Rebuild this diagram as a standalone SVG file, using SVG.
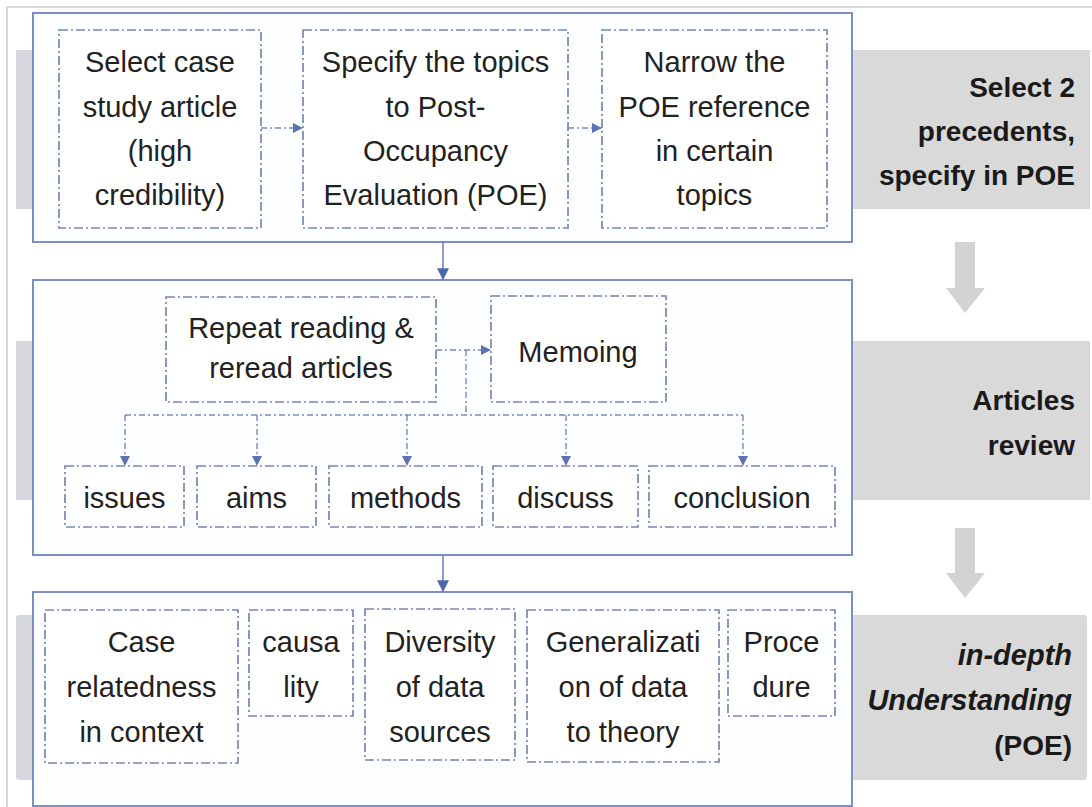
<svg xmlns="http://www.w3.org/2000/svg" width="1092" height="807" viewBox="0 0 1092 807">
<style>
.frame{fill:#ffffff;stroke:#d9d9d9;stroke-width:2}
.band{fill:url(#bandGrad)}
.cont{fill:#fdfeff;stroke:#7c8fc2;stroke-width:2}
.box{fill:#ffffff;stroke:#7587b3;stroke-width:1.7;stroke-dasharray:9 3 2 3}
.t{font-family:"Liberation Sans",Arial,sans-serif;font-size:29px;fill:#222222;text-anchor:middle}
.lab{font-family:"Liberation Sans",Arial,sans-serif;font-size:28px;font-weight:bold;fill:#1a1a1a;text-anchor:end}
.it{font-style:italic;font-size:29px}
.dc{fill:none;stroke:#7589c0;stroke-width:1.4;stroke-dasharray:6 3 2 3}
.sc{fill:none;stroke:#6a7fba;stroke-width:1.5}
.big{fill:#d3d3d3}
</style>
<defs>
<linearGradient id="bandGrad" x1="0" y1="0" x2="1" y2="0" gradientUnits="objectBoundingBox">
<stop offset="0" stop-color="#d6d8de"/>
<stop offset="0.78" stop-color="#d8d9dd"/>
<stop offset="0.8" stop-color="#d9d9d9"/>
<stop offset="1" stop-color="#d9d9d9"/>
</linearGradient>
<marker id="ah" viewBox="0 0 10 10" refX="9" refY="5" markerWidth="10" markerHeight="10" markerUnits="userSpaceOnUse" orient="auto">
<path d="M0,0 L10,5 L0,10 z" fill="#5b72b5"/>
</marker>
<marker id="ahs" viewBox="0 0 10 10" refX="9" refY="5" markerWidth="12" markerHeight="12" markerUnits="userSpaceOnUse" orient="auto">
<path d="M0,0 L10,5 L0,10 z" fill="#4e66ad"/>
</marker>
</defs>
<rect x="0" y="0" width="1092" height="807" fill="#ffffff"/>
<rect class="frame" x="7" y="7" width="1094" height="810"/>

<g id="bands">
<rect class="band" x="16" y="50" width="1074" height="159"/>
<rect class="band" x="16" y="341" width="1074" height="159"/>
<rect class="band" x="16" y="615" width="1071" height="165" rx="3"/>
</g>

<g id="big-arrows">
<path class="big" d="M955,242 H975 V288 H985 L965,313 L946,288 H955 Z"/>
<path class="big" d="M955,528 H975 V573 H985 L965,598 L946,573 H955 Z"/>
</g>

<g id="container1"><rect class="cont" x="33" y="13" width="819" height="229"/></g>
<g id="container2"><rect class="cont" x="33" y="280" width="819" height="275"/></g>
<g id="container3"><rect class="cont" x="33" y="592" width="819" height="214"/></g>

<g id="node-select-case">
<rect class="box" x="59" y="30" width="202" height="198"/>
<text class="t" x="160" y="72">Select case</text>
<text class="t" x="160" y="117">study article</text>
<text class="t" x="160" y="161">(high</text>
<text class="t" x="160" y="205">credibility)</text>
</g>
<g id="node-specify-topics">
<rect class="box" x="303" y="30" width="265" height="198"/>
<text class="t" x="435.5" y="72">Specify the topics</text>
<text class="t" x="435.5" y="117">to Post-</text>
<text class="t" x="435.5" y="161">Occupancy</text>
<text class="t" x="435.5" y="205">Evaluation (POE)</text>
</g>
<g id="node-narrow">
<rect class="box" x="602" y="30" width="225" height="198"/>
<text class="t" x="714.5" y="72">Narrow the</text>
<text class="t" x="714.5" y="117">POE reference</text>
<text class="t" x="714.5" y="161">in certain</text>
<text class="t" x="714.5" y="205">topics</text>
</g>

<g id="node-repeat">
<rect class="box" x="166" y="297" width="270" height="105"/>
<text class="t" x="301" y="338">Repeat reading &amp;</text>
<text class="t" x="301" y="378">reread articles</text>
</g>
<g id="node-memoing">
<rect class="box" x="491" y="296" width="175" height="106"/>
<text class="t" x="578" y="362">Memoing</text>
</g>
<g id="node-issues">
<rect class="box" x="65" y="466" width="119" height="61"/>
<text class="t" x="124.5" y="508">issues</text>
</g>
<g id="node-aims">
<rect class="box" x="197" y="466" width="119" height="61"/>
<text class="t" x="256.5" y="508">aims</text>
</g>
<g id="node-methods">
<rect class="box" x="329" y="466" width="153" height="61"/>
<text class="t" x="405.5" y="508">methods</text>
</g>
<g id="node-discuss">
<rect class="box" x="493" y="466" width="145" height="61"/>
<text class="t" x="565.5" y="508">discuss</text>
</g>
<g id="node-conclusion">
<rect class="box" x="649" y="466" width="186" height="61"/>
<text class="t" x="742" y="508">conclusion</text>
</g>

<g id="node-case-relatedness">
<rect class="box" x="45" y="610" width="193" height="153"/>
<text class="t" x="141.5" y="652">Case</text>
<text class="t" x="141.5" y="697">relatedness</text>
<text class="t" x="141.5" y="742">in context</text>
</g>
<g id="node-causality">
<rect class="box" x="249" y="610" width="104" height="106"/>
<text class="t" x="301" y="652">causa</text>
<text class="t" x="301" y="697">lity</text>
</g>
<g id="node-diversity">
<rect class="box" x="365" y="609" width="150" height="151"/>
<text class="t" x="440" y="652">Diversity</text>
<text class="t" x="440" y="697">of data</text>
<text class="t" x="440" y="742">sources</text>
</g>
<g id="node-generalization">
<rect class="box" x="527" y="610" width="192" height="152"/>
<text class="t" x="623" y="652">Generalizati</text>
<text class="t" x="623" y="697">on of data</text>
<text class="t" x="623" y="742">to theory</text>
</g>
<g id="node-procedure">
<rect class="box" x="728" y="610" width="107" height="106"/>
<text class="t" x="781.5" y="652">Proce</text>
<text class="t" x="781.5" y="697">dure</text>
</g>

<g id="label-select">
<text class="lab" x="1075" y="97">Select 2</text>
<text class="lab" x="1075" y="141">precedents,</text>
<text class="lab" x="1075" y="185">specify in POE</text>
</g>
<g id="label-articles">
<text class="lab" x="1075" y="410">Articles</text>
<text class="lab" x="1075" y="455">review</text>
</g>
<g id="label-understanding">
<text class="lab it" x="1072" y="665">in-depth</text>
<text class="lab it" x="1072" y="710">Understanding</text>
<text class="lab" x="1072" y="755">(POE)</text>
</g>

<g id="connectors">
<line class="dc" x1="261" y1="128" x2="302" y2="128" marker-end="url(#ah)"/>
<line class="dc" x1="568" y1="128" x2="601" y2="128" marker-end="url(#ah)"/>
<line class="sc" x1="443" y1="242" x2="443" y2="279" marker-end="url(#ahs)"/>
<line class="sc" x1="443" y1="555" x2="443" y2="591" marker-end="url(#ahs)"/>
<line class="dc" x1="436" y1="350" x2="490" y2="350" marker-end="url(#ah)"/>
<polyline class="dc" points="466,350 466,415"/>
<line class="dc" x1="125" y1="415" x2="743" y2="415"/>
<line class="dc" x1="125" y1="415" x2="125" y2="465" marker-end="url(#ah)"/>
<line class="dc" x1="257" y1="415" x2="257" y2="465" marker-end="url(#ah)"/>
<line class="dc" x1="407" y1="415" x2="407" y2="465" marker-end="url(#ah)"/>
<line class="dc" x1="566" y1="415" x2="566" y2="465" marker-end="url(#ah)"/>
<line class="dc" x1="743" y1="415" x2="743" y2="465" marker-end="url(#ah)"/>
</g>
</svg>
